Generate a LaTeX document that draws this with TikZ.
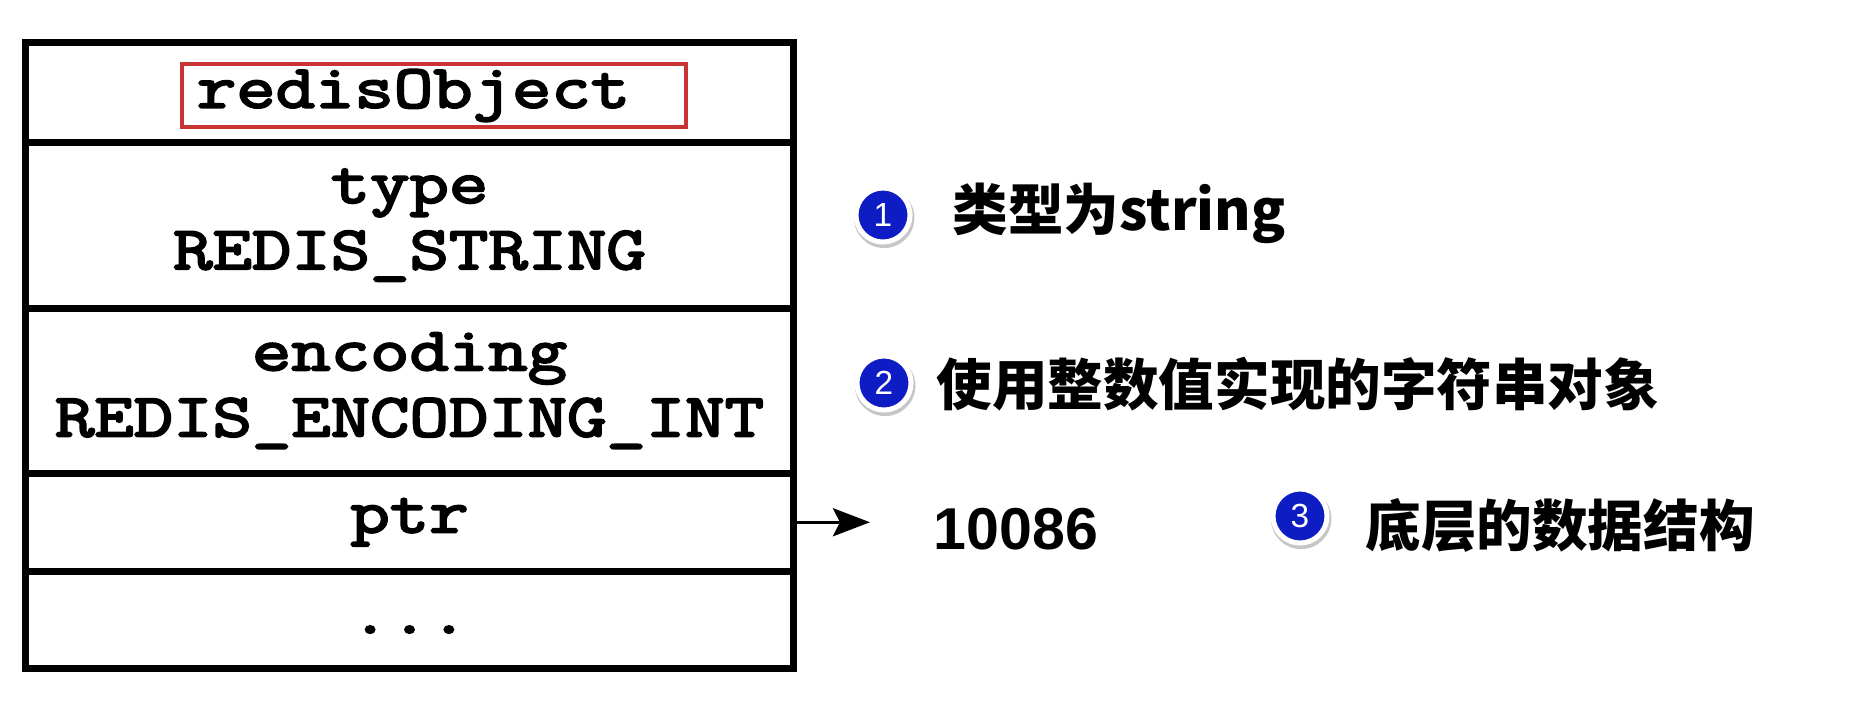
\documentclass[tikz,border=0pt]{standalone}
\usepackage{fontspec}
\usepackage{tikz}
\usetikzlibrary{positioning}
\usetikzlibrary{arrows.meta}
\usetikzlibrary{shadows}
\newfontfamily\codefont{Latin Modern Mono}[FakeStretch=1.25, FakeBold=3.5]
\newfontfamily\numfont{Liberation Sans}
\newfontfamily\cjk{Noto Sans CJK SC}
\definecolor{tagred}{RGB}{200,52,50}
\definecolor{badgeblue}{RGB}{14,28,196}
\tikzset{
        field/.style={
          draw, line width=0.07cm,
          minimum width=7.67cm, outer sep=0pt, inner sep=0pt,
          align=center, font=\codefont\fontsize{17.4}{18.8}\selectfont
          },
        tagbox/.style={
          draw=tagred, line width=0.04cm, fill=white,
          text width=4.74cm, inner xsep=0.15cm, inner ysep=0pt,
          minimum height=0.63cm, align=left,
          font=\codefont\fontsize{17.4}{18.8}\selectfont,
          drop shadow={shadow xshift=0.02cm, shadow yshift=-0.02cm, opacity=0.25}
          },
        badge/.style={
          circle, fill=badgeblue, draw=white, line width=0.05cm,
          minimum size=0.54cm, inner sep=0pt, text=white,
          font=\numfont\fontsize{9.5}{9.5}\selectfont,
          drop shadow={shadow xshift=0.01cm, shadow yshift=-0.025cm, shadow scale=1.12, opacity=0.45}
          },
        note/.style={anchor=west, inner sep=0pt, font=\cjk\bfseries\fontsize{15.8}{19}\selectfont},
        pointer/.style={-{Stealth[length=0.37cm, width=0.28cm, inset=0.07cm]}, line width=0.035cm},
}
\begin{document}
\begin{tikzpicture}[x=0.01cm, y=-0.01cm]
      \useasboundingbox (0,0) rectangle (1870,700);
      % redisObject fields
      \node[field, minimum height=0.99cm] (head) at (409.5,92.5) {};
      \node[field, minimum height=1.66cm, below=0pt of head] (type) {type\\REDIS\_STRING};
      \node[field, minimum height=1.65cm, below=0pt of type] (enc) {encoding\\REDIS\_ENCODING\_INT};
      \node[field, minimum height=0.98cm, below=0pt of enc] (ptr) {ptr};
      \node[field, minimum height=0.97cm, below=0pt of ptr] (rest) {\strut...};
      % title tag
      \node[tagbox] (tag) at (434,95.5) {redisObject};

      % pointer target
      \node[anchor=west, inner sep=0pt, font=\numfont\bfseries\fontsize{16.8}{20}\selectfont] (val) at (933,529) {10086};
      \draw[pointer, shorten >=0.63cm] (ptr.east) -- (ptr.east -| val.west);

      % notes
      \node[badge] (b1) at (883,215) {1};
      \node[note] (t1) at (952,213) {类型为string};
      \node[badge] (b2) at (884,383) {2};
      \node[note] (t2) at (936,384) {使用整数值实现的字符串对象};
      \node[badge] (b3) at (1300,516) {3};
      \node[note] (t3) at (1365,525) {底层的数据结构};
\end{tikzpicture}
\end{document}
